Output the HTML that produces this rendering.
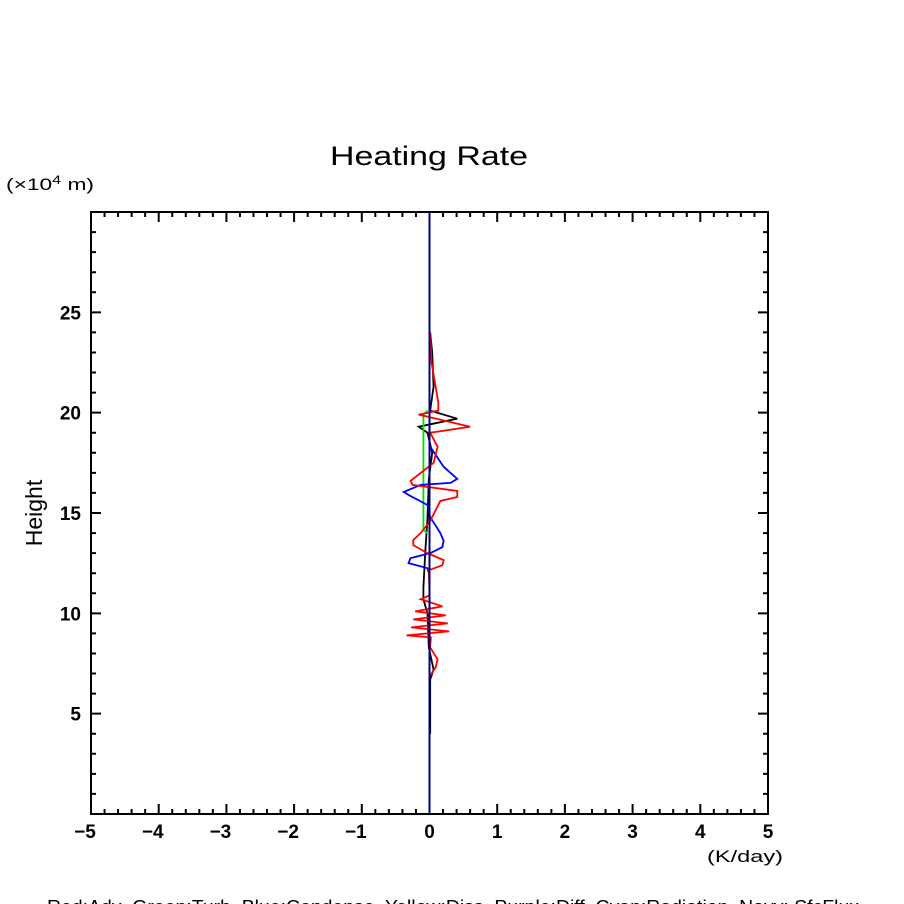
<!DOCTYPE html>
<html><head><meta charset="utf-8"><style>
body{margin:0;background:#fff;}
svg{display:block;font-family:"Liberation Sans",sans-serif;}
</style></head><body>
<svg id="chart" width="904" height="904" viewBox="0 0 904 904">
<text x="330" y="165" font-size="27" textLength="198" lengthAdjust="spacingAndGlyphs">Heating Rate</text>
<text x="6" y="190" font-size="17" textLength="88" lengthAdjust="spacingAndGlyphs">(×10<tspan font-size="12" dy="-6">4</tspan><tspan dy="6"> m)</tspan></text>
<text x="42" y="513" font-size="23" text-anchor="middle" transform="rotate(-90 42 513)">Height</text>
<text x="707" y="862" font-size="17" textLength="76" lengthAdjust="spacingAndGlyphs">(K/day)</text>
<text x="47" y="913" font-size="18" textLength="812" lengthAdjust="spacingAndGlyphs" style="white-space:pre">Red:Adv  Green:Turb  Blue:Condense  Yellow:Diss  Purple:Diff  Cyan:Radiation  Navy: SfcFlux</text>
<g id="axes"></g>
<g id="series"></g>
</svg>
<script>
const xTicks=[-5,-4,-3,-2,-1,0,1,2,3,4,5];
const yTicks=[5,10,15,20,25];
const redX=[0.01,0.03,0.13,0.13,-0.16,-0.03,0.6,0.01,0.12,0.06,-0.28,-0.25,0.41,0.41,0.16,0.01,-0.13,-0.24,-0.24,-0.03,0.21,0.19,-0.01,0,-0.13,0.19,-0.21,0.24,-0.24,0.27,-0.27,0.29,-0.34,0.02,0.01,0.12,0.09,0.01];
const redH=[24,22.5,20.5,20.1,19.9,19.8,19.3,19.0,18.3,17.5,16.6,16.4,16.1,15.8,15.6,14.6,14.0,13.65,13.4,13.0,12.65,12.4,12.15,10.9,10.7,10.35,10.1,9.9,9.7,9.5,9.3,9.1,8.9,8.8,8.3,7.7,7.3,6.9];
const blueX=[0.01,0.21,0.41,0.31,-0.13,-0.38,-0.31,-0.03,0.01,0.16,0.21,0.21,0.19,0.01,-0.28,-0.31,-0.03,-0.01];
const blueH=[18.3,17.3,16.7,16.5,16.4,16.05,15.9,15.4,14.8,14.0,13.6,13.65,13.3,13.0,12.75,12.5,12.25,12.0];
const greenX=[-0.03,-0.09,-0.09,-0.03];
const greenH=[20.1,19.9,14.15,14.0];
const blackX=[0.01,0.04,0.06,0.01,0.41,-0.16,-0.03,0.04,-0.01,-0.03,-0.06,-0.09,-0.09,-0.03,-0.01,0.06,0.01,0.01];
const blackH=[24,23,21.3,20.1,19.7,19.3,19.0,18.0,16.7,14.7,13.2,11.3,10.7,10.0,8.3,7.2,6.7,4.0];
const X0=91,X1=768,Y0=814,Y1=212;
const xs=v=>X0+(v+5)/10*(X1-X0);
const ys=v=>Y0-v/30*(Y0-Y1);
const NS="http://www.w3.org/2000/svg";
const axes=document.getElementById('axes'),ser=document.getElementById('series');
function mk(tag,a,p){const e=document.createElementNS(NS,tag);for(const k in a)e.setAttribute(k,a[k]);p.appendChild(e);return e;}
const fr=mk('rect',{x:X0,y:Y1,width:X1-X0,height:Y0-Y1,fill:'none',stroke:'#000','stroke-width':2},axes);


let d='';
for(let i=0;i<=50;i++){const v=-5+i*0.2;const x=xs(v);const L=(i%5===0)?10:5;d+=`M${x} ${Y0}v${-L}M${x} ${Y1}v${L}`;}
for(let i=1;i<30;i++){const y=ys(i);const L=(i%5===0)?10:5;d+=`M${X0} ${y}h${L}M${X1} ${y}h${-L}`;}
const tk=mk('path',{d:d,stroke:'#000','stroke-width':2,fill:'none'},axes);


xTicks.forEach(v=>{const t=mk('text',{x:xs(v)-(v<0?6:0),y:838,'font-size':19,'font-weight':'bold','text-anchor':'middle'},axes);t.textContent=(v<0?'−':'')+Math.abs(v);

});
yTicks.forEach(v=>{const t=mk('text',{x:81,y:ys(v)+7,'font-size':19,'font-weight':'bold','text-anchor':'end'},axes);t.textContent=v;

});
function line(X,H,c,n){const p=mk('polyline',{points:X.map((v,i)=>xs(v)+','+ys(H[i])).join(' '),fill:'none',stroke:c,'stroke-width':1.8},ser);

}
line(blackX,blackH,'#000','total-line');
line(greenX,greenH,'#00e000','turb-line');
line(blueX,blueH,'#0000ff','condense-line');
line(redX,redH,'#ff0000','adv-line');
const nv=mk('line',{x1:xs(0),x2:xs(0),y1:Y1,y2:Y0,stroke:'#000080','stroke-width':2},ser);


</script>
</body></html>
